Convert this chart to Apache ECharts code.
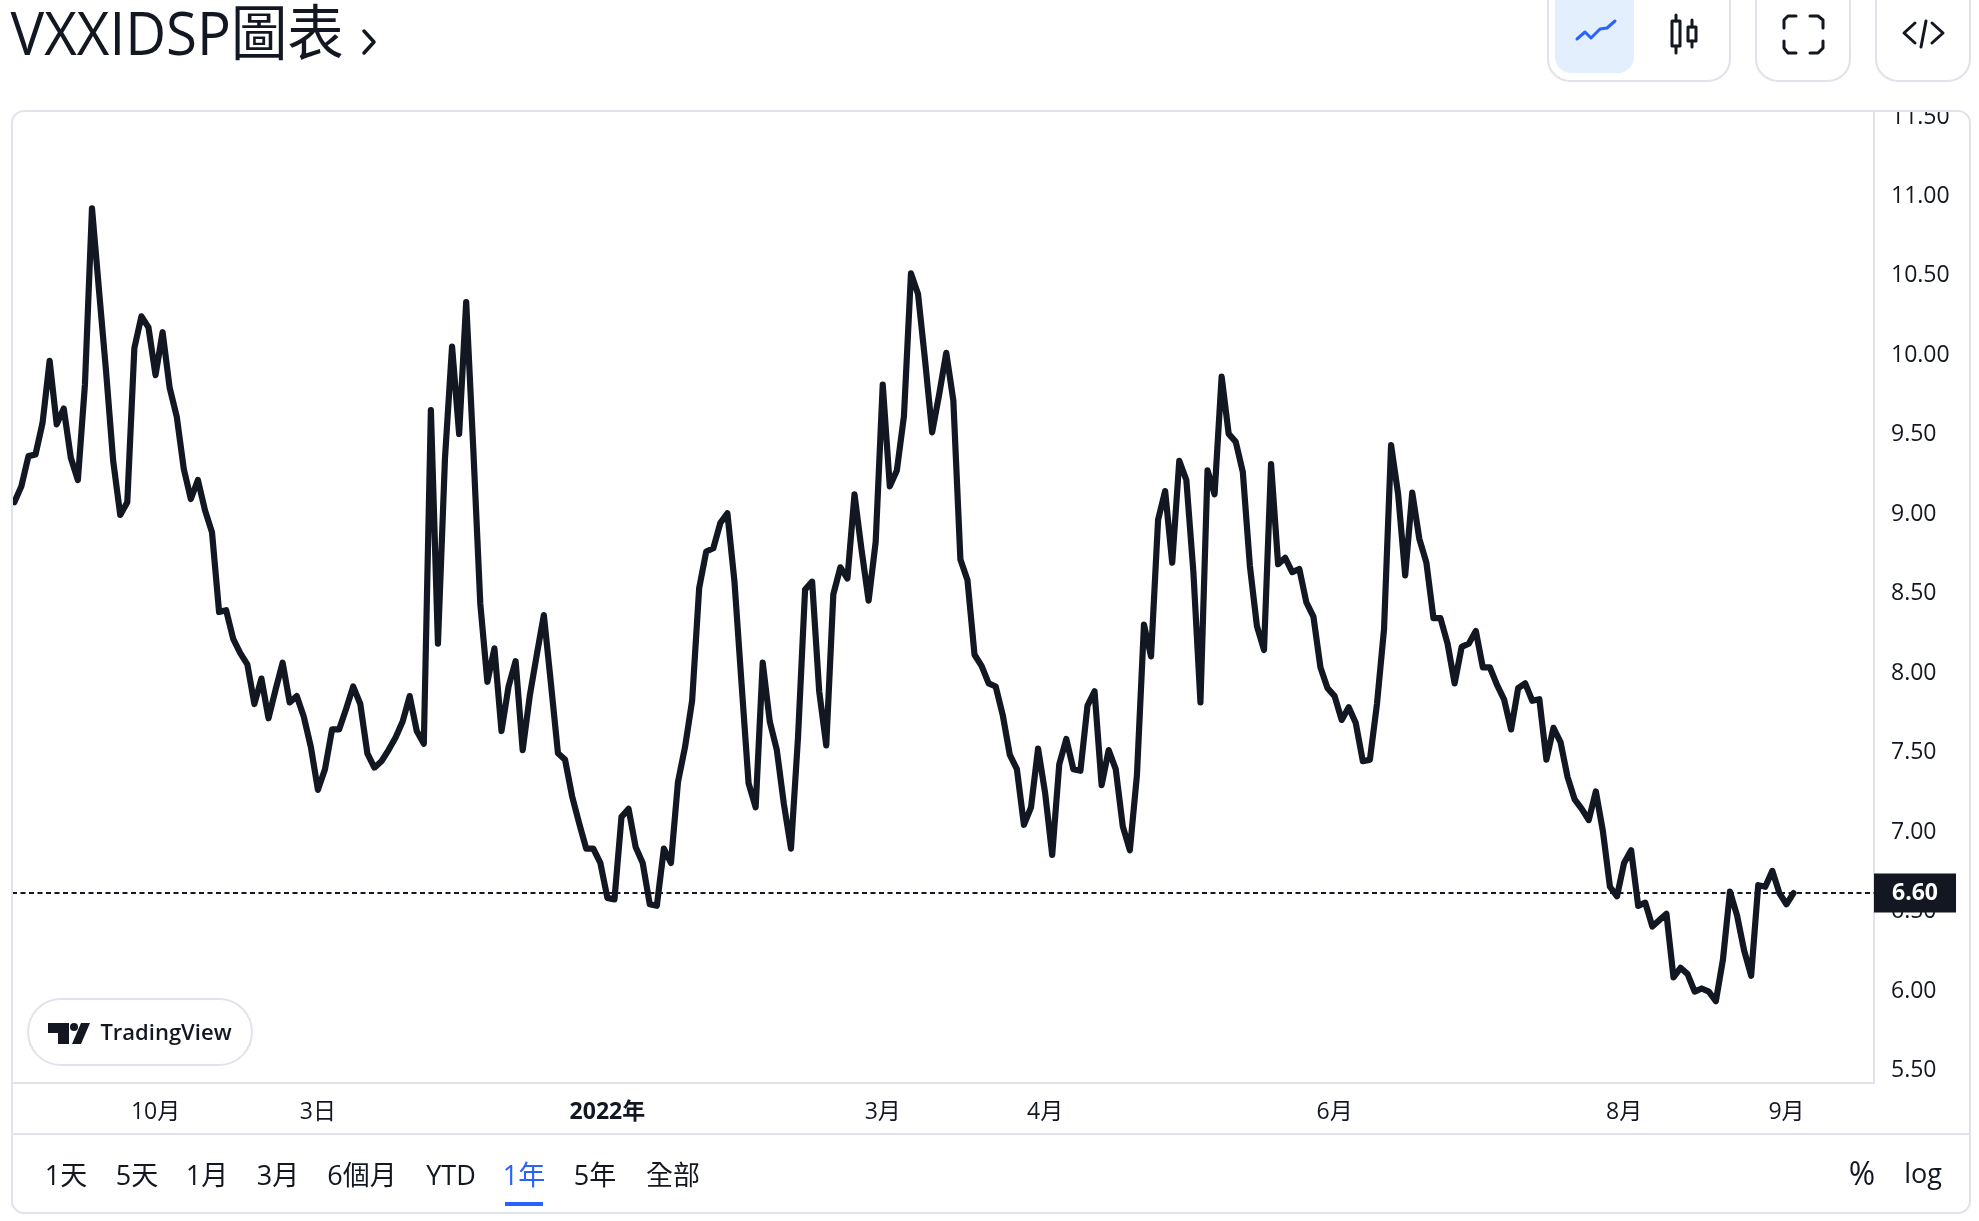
<![CDATA[<!DOCTYPE html>
<html><head><meta charset="utf-8">
<script src="https://cdn.jsdelivr.net/npm/echarts@6/dist/echarts.min.js"></script>
<style>html,body{margin:0;padding:0;background:#fff}#c{width:1979px;height:1221px}</style>
</head><body><div id="c"></div>
<script>
const values = [
9.06,9.16,9.35,9.36,9.56,9.95,9.55,9.65,9.34,9.20,9.80,10.91,10.39,9.88,9.32,8.98,9.06,10.03,10.23,10.16,
9.86,10.13,9.78,9.60,9.27,9.08,9.20,9.01,8.87,8.37,8.38,8.20,8.11,8.04,7.79,7.95,7.70,7.88,8.05,7.80,
7.84,7.71,7.52,7.25,7.38,7.63,7.63,7.76,7.90,7.79,7.48,7.39,7.43,7.50,7.58,7.68,7.84,7.62,7.54,9.64,
8.17,9.34,10.04,9.49,10.32,9.40,8.42,7.93,8.14,7.62,7.90,8.06,7.50,7.84,8.10,8.35,7.92,7.48,7.44,7.21,
7.04,6.88,6.88,6.79,6.57,6.56,7.08,7.13,6.89,6.79,6.53,6.52,6.88,6.79,7.30,7.52,7.81,8.52,8.75,8.77,
8.93,8.99,8.56,7.92,7.29,7.14,8.05,7.68,7.50,7.16,6.88,7.58,8.51,8.56,7.87,7.53,8.48,8.65,8.58,9.11,
8.76,8.44,8.81,9.80,9.16,9.26,9.60,10.50,10.37,9.95,9.50,9.74,10.00,9.70,8.70,8.57,8.10,8.03,7.92,7.90,
7.72,7.47,7.38,7.03,7.14,7.51,7.23,6.84,7.41,7.57,7.38,7.37,7.78,7.87,7.28,7.50,7.38,7.02,6.87,7.34,
8.29,8.09,8.95,9.13,8.68,9.32,9.20,8.62,7.80,9.26,9.11,9.85,9.49,9.44,9.25,8.66,8.28,8.13,9.30,8.67,
8.71,8.62,8.64,8.43,8.34,8.02,7.89,7.84,7.69,7.77,7.67,7.43,7.44,7.79,8.26,9.42,9.11,8.60,9.12,8.83,
8.68,8.33,8.33,8.17,7.92,8.15,8.17,8.25,8.02,8.02,7.91,7.82,7.63,7.89,7.92,7.81,7.82,7.44,7.64,7.55,
7.33,7.19,7.13,7.06,7.24,6.99,6.64,6.58,6.79,6.87,6.52,6.54,6.39,6.43,6.47,6.07,6.13,6.09,5.98,6.00,
5.98,5.92,6.18,6.61,6.46,6.24,6.08,6.65,6.64,6.74,6.60,6.53,6.60
];
const lastPrice = 6.60;
const priceTicks = [5.5,6,6.5,7,7.5,8,8.5,9,9.5,10,10.5,11,11.5];
const timeTickIndex = [20,43,84,123,146,187,228,251];
const timeTickText = ['10月','3日','2022年','3月','4月','6月','8月','9月'];
const boldTimeTicks = ['2022年'];
const rangeButtons = ['1天','5天','1月','3月','6個月','YTD','1年','5年','全部'];
const activeRange = '1年';
const titleText = 'VXXIDSP圖表';

const INK = '#131722', RULE = '#e0e3eb', BLUE = '#2962ff';
const FONT = '"Open Sans","Noto Sans CJK TC",sans-serif';
const chart = echarts.init(document.getElementById('c'), null, {renderer:'canvas', width:1979, height:1221});

const rangeX = [66,137,207,278,362,451,524,595,673];
const g = [];
const Z = 80;
const stroke = (w,c)=>({stroke:c||INK, lineWidth:w, fill:null, lineCap:'round', lineJoin:'round'});
const poly = (pts,w,c)=>({type:'polyline', z:Z, silent:true, shape:{points:pts}, style:stroke(w,c)});
const seg = (x1,y1,x2,y2,w,c)=>({type:'line', z:Z, silent:true, shape:{x1,y1,x2,y2}, style:stroke(w,c)});
const txt = (text,x,y,size,color,extra)=>({type:'text', z:Z, silent:true, x, y,
  style:Object.assign({text, font:size+'px '+FONT, fill:color||INK, align:'center', verticalAlign:'middle'}, extra||{})});

// clip of the top price label and card frame
g.push({type:'rect', z:Z-2, silent:true, shape:{x:1876,y:80,width:92,height:31}, style:{fill:'#fff'}});
g.push({type:'rect', z:Z-1, silent:true, shape:{x:12,y:111,width:1958,height:1102,r:12}, style:{fill:null,stroke:RULE,lineWidth:2}});
g.push(seg(12,1134,1970,1134,2,RULE));

// header
g.push({type:'text', z:Z, silent:true, x:10, y:38, scaleX:0.94, originX:10, originY:38,
  style:{text:titleText, font:'60px '+FONT, fill:INK, align:'left', verticalAlign:'middle'}});
g.push(poly([[364,31],[374,42],[364,53]],3.5));

// header buttons
[[1548,182],[1756,94],[1876,94]].forEach(b=>g.push({type:'rect', z:Z-1, silent:true,
  shape:{x:b[0],y:-40,width:b[1],height:121,r:22}, style:{fill:'#fff',stroke:RULE,lineWidth:2}}));
g.push({type:'rect', z:Z, silent:true, shape:{x:1555,y:-30,width:79,height:103,r:16}, style:{fill:'#e3effd'}});
g.push(poly([[1577,39],[1585,32],[1591,38],[1600,29],[1607,28],[1615,21]],3,BLUE));
g.push({type:'rect', z:Z, silent:true, shape:{x:1672,y:21,width:8,height:25}, style:stroke(3)});
g.push(seg(1676,15,1676,21,3), seg(1676,46,1676,53,3));
g.push({type:'rect', z:Z, silent:true, shape:{x:1688,y:27,width:8,height:14}, style:stroke(3)});
g.push(seg(1692,20,1692,27,3), seg(1692,41,1692,47,3));
g.push(poly([[1784,28],[1784,20],[1788,16],[1796,16]],3), poly([[1810,16],[1818,16],[1823,20],[1823,28]],3),
       poly([[1784,41],[1784,48],[1788,53],[1796,53]],3), poly([[1810,53],[1818,53],[1823,48],[1823,41]],3));
g.push(poly([[1915,23],[1904,33],[1915,43]],3), seg(1926,21,1921,47,3), poly([[1932,23],[1943,33],[1932,43]],3));

// watermark
g.push({type:'rect', z:Z, silent:true, shape:{x:28,y:999,width:224,height:66,r:33}, style:{fill:'#fff',stroke:RULE,lineWidth:2}});
g.push({type:'polygon', z:Z, silent:true, shape:{points:[[48,1023],[69,1023],[69,1044],[58,1044],[58,1033],[48,1033]]}, style:{fill:INK}});
g.push({type:'circle', z:Z, silent:true, shape:{cx:74,cy:1027,r:4}, style:{fill:INK}});
g.push({type:'polygon', z:Z, silent:true, shape:{points:[[81,1023],[90,1023],[81,1044],[72,1044]]}, style:{fill:INK}});
g.push({type:'text', z:Z, silent:true, x:166, y:1034,
  style:{text:'TradingView', font:'600 22px '+FONT, fill:INK, align:'center', verticalAlign:'middle'}});

// range buttons
rangeButtons.forEach((t,i)=>g.push(txt(t,rangeX[i],1177,27,t===activeRange?BLUE:INK)));
g.push({type:'rect', z:Z, silent:true, shape:{x:505,y:1202,width:38,height:4}, style:{fill:BLUE}});
g.push(txt('%',1862,1176,32,INK), txt('log',1923,1175,27,INK));

chart.setOption({
  animation:false,
  backgroundColor:'#fff',
  grid:{left:12, right:105, top:111, bottom:138, containLabel:false},
  xAxis:{type:'value', min:-0.33, max:263.4, splitLine:{show:false},
    axisLine:{show:true, onZero:false, lineStyle:{color:RULE, width:2}}, axisTick:{show:false},
    axisLabel:{customValues:timeTickIndex, margin:18, fontSize:23, fontFamily:FONT, color:INK,
      formatter:v=>{const t=timeTickText[timeTickIndex.indexOf(v)]; return boldTimeTicks.includes(t)?'{b|'+t+'}':t;},
      rich:{b:{fontSize:23,fontWeight:'bold',fontFamily:FONT,color:INK}}}},
  yAxis:{type:'value', position:'right', min:5.405, max:11.522, splitLine:{show:false},
    axisLine:{show:true, onZero:false, lineStyle:{color:RULE, width:2}}, axisTick:{show:false},
    axisLabel:{customValues:priceTicks, margin:17, fontSize:23, fontFamily:FONT, color:INK,
      formatter:v=>'{p|'+v.toFixed(2)+'}',
      rich:{p:{fontSize:23, fontFamily:FONT, color:INK, padding:[5,0,0,0]}}}},
  series:[{type:'line', data:values.map((v,i)=>[i,v]), showSymbol:false, smooth:false, silent:true, clip:true,
    lineStyle:{color:INK, width:6.2, cap:'round', join:'round'},
    markLine:{silent:true, symbol:'none', animation:false,
      lineStyle:{color:INK, width:1.8, type:[5,3.5]},
      label:{show:true, position:'end', distance:0, formatter:()=>lastPrice.toFixed(2), color:'#fff', fontSize:23, fontWeight:700,
        fontFamily:FONT, backgroundColor:INK, padding:[11,18,5,18]},
      data:[{yAxis:lastPrice}]}}],
  graphic:g
});
</script></body></html>]]>
